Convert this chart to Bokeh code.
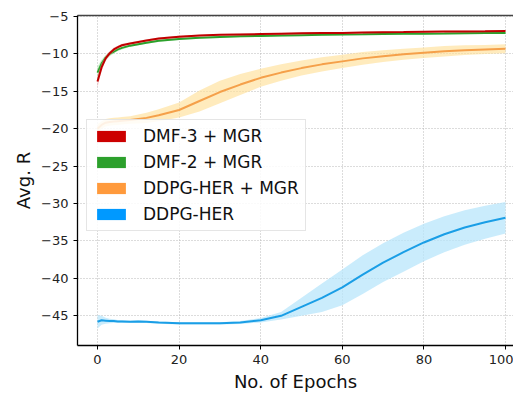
from bokeh.plotting import figure
from bokeh.models import (Range1d, LinearAxis, Legend, LegendItem, FixedTicker,
                          CustomJSTickFormatter, ColumnDataSource)
from bokeh.embed import file_html
from bokeh.resources import INLINE

# ---- data ----
epochs = [0, 1, 2, 3, 4, 5, 6, 8, 10, 12, 15, 20, 25, 30, 35, 40, 45, 50, 55, 60, 65, 70, 75, 80, 85, 90, 95, 100]

dmf3_mean = [-13.7, -11.8, -10.6, -9.9, -9.4, -9.1, -8.85, -8.6, -8.4, -8.2, -7.95, -7.7, -7.55, -7.45, -7.4, -7.35,
             -7.3, -7.25, -7.22, -7.2, -7.15, -7.1, -7.08, -7.05, -7.02, -7.0, -6.98, -6.95]
dmf3_sd = [0.8, 0.5, 0.35, 0.3, 0.25, 0.2, 0.2, 0.15, 0.15, 0.15, 0.15, 0.15, 0.12, 0.12, 0.12, 0.12,
           0.12, 0.12, 0.12, 0.12, 0.12, 0.12, 0.12, 0.12, 0.12, 0.12, 0.12, 0.12]

dmf2_mean = [-12.5, -11.3, -10.5, -10.0, -9.7, -9.4, -9.2, -8.9, -8.7, -8.5, -8.25, -8.0, -7.85, -7.75, -7.65, -7.6,
             -7.55, -7.5, -7.45, -7.4, -7.38, -7.35, -7.32, -7.3, -7.28, -7.25, -7.22, -7.2]
dmf2_sd = [0.8, 0.5, 0.35, 0.3, 0.25, 0.2, 0.2, 0.15, 0.15, 0.15, 0.15, 0.15, 0.12, 0.12, 0.12, 0.12,
           0.12, 0.12, 0.12, 0.12, 0.12, 0.12, 0.12, 0.12, 0.12, 0.12, 0.12, 0.12]

her_mgr_mean = [-20.0, -19.5, -19.2, -19.1, -19.05, -19.0, -18.95, -18.85, -18.7, -18.55, -18.2, -17.5, -16.3, -15.1,
                -14.1, -13.2, -12.5, -11.9, -11.4, -11.0, -10.6, -10.3, -10.05, -9.85, -9.65, -9.5, -9.4, -9.3]
her_mgr_sd = [0.6, 0.5, 0.5, 0.5, 0.5, 0.5, 0.5, 0.5, 0.6, 0.7, 0.8, 1.0, 1.4, 1.5, 1.4, 1.2, 1.1, 1.0, 0.95, 0.9,
              0.85, 0.8, 0.75, 0.7, 0.7, 0.65, 0.6, 0.6]

her_mean = [-45.8, -45.6, -45.65, -45.7, -45.7, -45.75, -45.75, -45.8, -45.75, -45.8, -45.9, -46.0, -46.0, -46.0, -45.9,
            -45.6, -45.0, -43.8, -42.6, -41.2, -39.5, -37.9, -36.5, -35.2, -34.1, -33.2, -32.5, -31.9]
her_sd = [0.9, 0.6, 0.4, 0.3, 0.25, 0.2, 0.2, 0.15, 0.15, 0.15, 0.15, 0.15, 0.15, 0.15, 0.2, 0.3, 0.5, 1.2, 1.9, 2.4,
          2.6, 2.6, 2.6, 2.5, 2.4, 2.3, 2.2, 2.1]

labels = ["DMF-3 + MGR", "DMF-2 + MGR", "DDPG-HER + MGR", "DDPG-HER"]
x_ticks = [0, 20, 40, 60, 80, 100]
y_ticks = [-5, -10, -15, -20, -25, -30, -35, -40, -45]

FONT = "DejaVu Sans"

p = figure(width=513, height=394, output_backend="svg", toolbar_location=None,
           x_range=Range1d(-4.9, 101.96), y_range=Range1d(-48.97, -4.87),
           min_border_left=77, min_border_right=0, min_border_top=15, min_border_bottom=46)
p.outline_line_color = None
p.background_fill_color = "white"
p.border_fill_color = "white"

series = [
    (dmf2_mean, dmf2_sd, "#2ca02c", "#9be89b", 0.5),
    (dmf3_mean, dmf3_sd, "#c00000", "#f2a0a0", 0.5),
    (her_mgr_mean, her_mgr_sd, "#f5a04a", "#ffe09a", 0.65),
    (her_mean, her_sd, "#1a9ee6", "#b8e6fb", 0.75),
]
for mean, sd, lc, fc, fa in series:
    lo = [m - s for m, s in zip(mean, sd)]
    hi = [m + s for m, s in zip(mean, sd)]
    src = ColumnDataSource(dict(x=epochs, y=mean, lo=lo, hi=hi))
    p.varea(x="x", y1="lo", y2="hi", source=src, fill_color=fc, fill_alpha=fa)
    p.line(x="x", y="y", source=src, line_color=lc, line_width=2)

# grid
for g in (p.xgrid, p.ygrid):
    g.grid_line_color = "#b8b8b8"
    g.grid_line_dash = "1 2"
    g.grid_line_width = 1
p.xgrid.ticker = FixedTicker(ticks=x_ticks)
p.ygrid.ticker = FixedTicker(ticks=y_ticks)

fmt = CustomJSTickFormatter(code="return tick < 0 ? '\u2212' + Math.abs(tick) : tick.toString();")
p.xaxis.ticker = FixedTicker(ticks=x_ticks)
p.yaxis.ticker = FixedTicker(ticks=y_ticks)
p.yaxis.formatter = fmt
for ax in (p.xaxis[0], p.yaxis[0]):
    ax.axis_line_color = "black"
    ax.axis_line_width = 1.3
    ax.major_tick_line_color = "black"
    ax.major_tick_out = 4
    ax.major_tick_in = 0
    ax.minor_tick_line_color = None
    ax.major_label_text_font = FONT
    ax.major_label_text_font_size = "13px"
    ax.major_label_text_color = "#222222"
    ax.axis_label_text_font = FONT
    ax.axis_label_text_font_size = "18px"
    ax.axis_label_text_font_style = "normal"
    ax.axis_label_text_color = "#111111"
p.xaxis.axis_label = "No. of Epochs"
p.yaxis.axis_label = "Avg. R"
p.xaxis.axis_label_standoff = 4
p.yaxis.axis_label_standoff = 4

top = LinearAxis(ticker=FixedTicker(ticks=[]), major_tick_line_color=None, minor_tick_line_color=None,
                 axis_line_color="#444444", axis_line_width=1.3)
p.add_layout(top, "above")

# legend with solid patches (renderers hold no visible points)
colors = ["#cc0000", "#2ca02c", "#ff9a3c", "#0099ff"]
items = []
for lab, c in zip(labels, colors):
    r = p.rect(x=[float("nan")], y=[float("nan")], width=1, height=1, fill_color=c, line_color=None)
    items.append(LegendItem(label=lab, renderers=[r]))
legend = Legend(items=items, location=(9, 114), glyph_width=36, glyph_height=14,
                label_height=20, spacing=6, padding=6, margin=0, label_standoff=14,
                label_text_font=FONT, label_text_font_size="17px", label_text_color="#111111",
                border_line_color="#cccccc", border_line_width=1,
                background_fill_color="white", background_fill_alpha=0.85)
p.add_layout(legend, "center")

open("out.html", "w").write(file_html(p, INLINE))
